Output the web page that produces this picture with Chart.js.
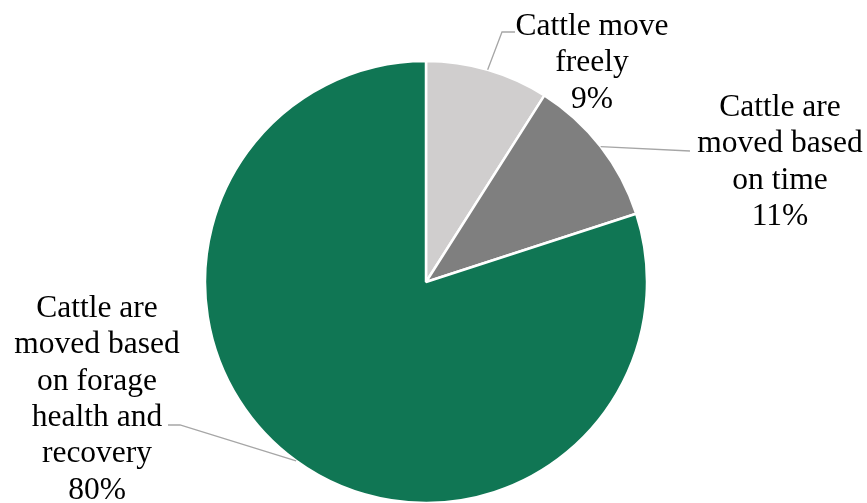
<!DOCTYPE html>
<html>
<head>
<meta charset="utf-8">
<script src="https://cdn.jsdelivr.net/npm/chart.js@4"></script>
<style>
  html, body { margin: 0; padding: 0; background: #ffffff; }
  #wrap { width: 867px; height: 503px; position: relative; }
</style>
</head>
<body>
<div id="wrap"><canvas id="c" width="867" height="503"></canvas></div>
<script>
// ---- data ----
const categories = [
  ["Cattle move", "freely"],
  ["Cattle are", "moved based", "on time"],
  ["Cattle are", "moved based", "on forage", "health and", "recovery"]
];
const values = [9, 11, 80];
const percentLabels = ["9%", "11%", "80%"];
const colors = ["#D0CECE", "#7F7F7F", "#107654"];

// ---- label layout (relative to pie centre) ----
const labelLayout = [
  { cx: 166, firstBaseline: -247, elbow: [ [76, -250], [89, -250] ] },
  { cx: 354, firstBaseline: -166, elbow: [ [264, -131] ] },
  { cx: -329, firstBaseline: 35, elbow: [ [-246, 143], [-258, 143] ] }
];
const LINE_H = 36.3;
const FONT = '31.5px "Liberation Serif", "Times New Roman", serif';

const labelPlugin = {
  id: 'pieLabels',
  afterDatasetsDraw(chart) {
    const ctx = chart.ctx;
    const meta = chart.getDatasetMeta(0);
    ctx.save();
    meta.data.forEach((arc, i) => {
      const p = arc.getProps(['x', 'y', 'startAngle', 'endAngle', 'outerRadius'], true);
      const mid = (p.startAngle + p.endAngle) / 2;
      const sx = p.x + Math.cos(mid) * p.outerRadius;
      const sy = p.y + Math.sin(mid) * p.outerRadius;
      const lay = labelLayout[i];
      ctx.beginPath();
      ctx.strokeStyle = '#A6A6A6';
      ctx.lineWidth = 1.3;
      ctx.moveTo(sx, sy);
      lay.elbow.forEach(pt => ctx.lineTo(p.x + pt[0], p.y + pt[1]));
      ctx.stroke();
      ctx.fillStyle = '#000000';
      ctx.font = FONT;
      ctx.textAlign = 'center';
      ctx.textBaseline = 'alphabetic';
      const lines = categories[i].concat([percentLabels[i]]);
      lines.forEach((t, k) => {
        ctx.fillText(t, p.x + lay.cx, p.y + lay.firstBaseline + k * LINE_H);
      });
    });
    ctx.restore();
  }
};

new Chart(document.getElementById('c'), {
  type: 'pie',
  data: {
    labels: categories.map(c => c.join(' ')),
    datasets: [{
      data: values,
      backgroundColor: colors,
      borderColor: '#ffffff',
      borderWidth: 2.5
    }]
  },
  options: {
    responsive: false,
    animation: false,
    radius: 221,
    layout: { padding: { top: 61, bottom: 0, left: 0, right: 15 } },
    plugins: {
      legend: { display: false },
      tooltip: { enabled: false },
      title: { display: false }
    }
  },
  plugins: [labelPlugin]
});
</script>
</body>
</html>
